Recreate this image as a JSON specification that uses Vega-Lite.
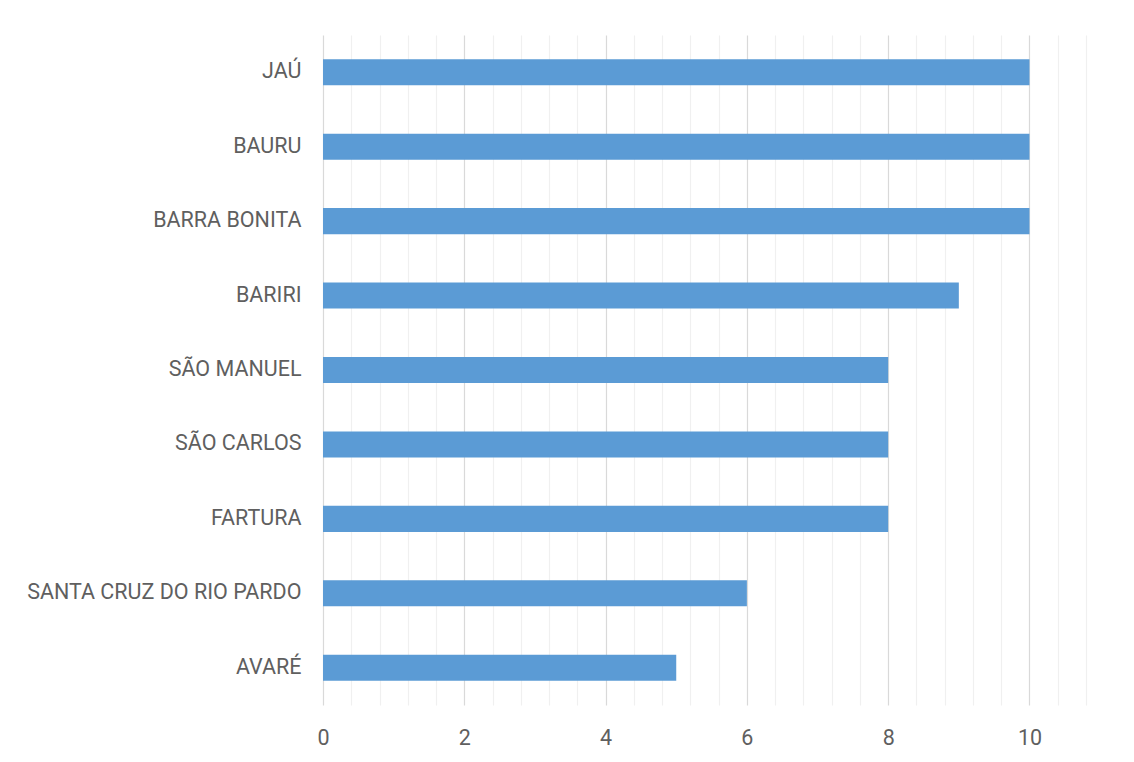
{
  "$schema": "https://vega.github.io/schema/vega-lite/v6.json",
  "autosize": {"type": "none"},
  "width": 763,
  "height": 670,
  "padding": {"left": 323, "top": 35, "right": 48, "bottom": 57},
  "background": "white",
  "config": {"view": {"stroke": null}},
  "data": {"values": [
    {"city": "JAÚ", "value": 10},
    {"city": "BAURU", "value": 10},
    {"city": "BARRA BONITA", "value": 10},
    {"city": "BARIRI", "value": 9},
    {"city": "SÃO MANUEL", "value": 8},
    {"city": "SÃO CARLOS", "value": 8},
    {"city": "FARTURA", "value": 8},
    {"city": "SANTA CRUZ DO RIO PARDO", "value": 6},
    {"city": "AVARÉ", "value": 5}
  ]},
  "mark": {"type": "bar", "color": "#5B9BD5"},
  "encoding": {
    "y": {
      "field": "city", "type": "nominal", "sort": null, "title": null,
      "scale": {"paddingInner": 0.65, "paddingOuter": 0.325},
      "axis": {"ticks": false, "domain": false, "labelPadding": 22, "labelLimit": 400, "labelFont": "Roboto", "labelFontWeight": 400, "labelFontSize": 21.5, "labelColor": "#5F5F5F", "grid": false}
    },
    "x": {
      "field": "value", "type": "quantitative", "title": null,
      "scale": {"domain": [0, 10.8], "nice": false, "zero": true},
      "axis": {
        "values": [0,0.4,0.8,1.2,1.6,2,2.4,2.8,3.2,3.6,4,4.4,4.8,5.2,5.6,6,6.4,6.8,7.2,7.6,8,8.4,8.8,9.2,9.6,10,10.4,10.8],
        "labelExpr": "abs(datum.value % 2) < 0.001 ? format(datum.value, 'd') : ''",
        "gridColor": {"condition": {"test": "abs(datum.value % 2) < 0.001", "value": "#D9D9D9"}, "value": "#F0F0F0"},
        "gridWidth": 1.2,
        "labelFlush": false,
        "ticks": false, "domain": false, "labelPadding": 22,
        "labelFont": "Roboto", "labelFontWeight": 400, "labelFontSize": 21.5, "labelColor": "#5F5F5F", "labelBaseline": "top"
      }
    }
  }
}
